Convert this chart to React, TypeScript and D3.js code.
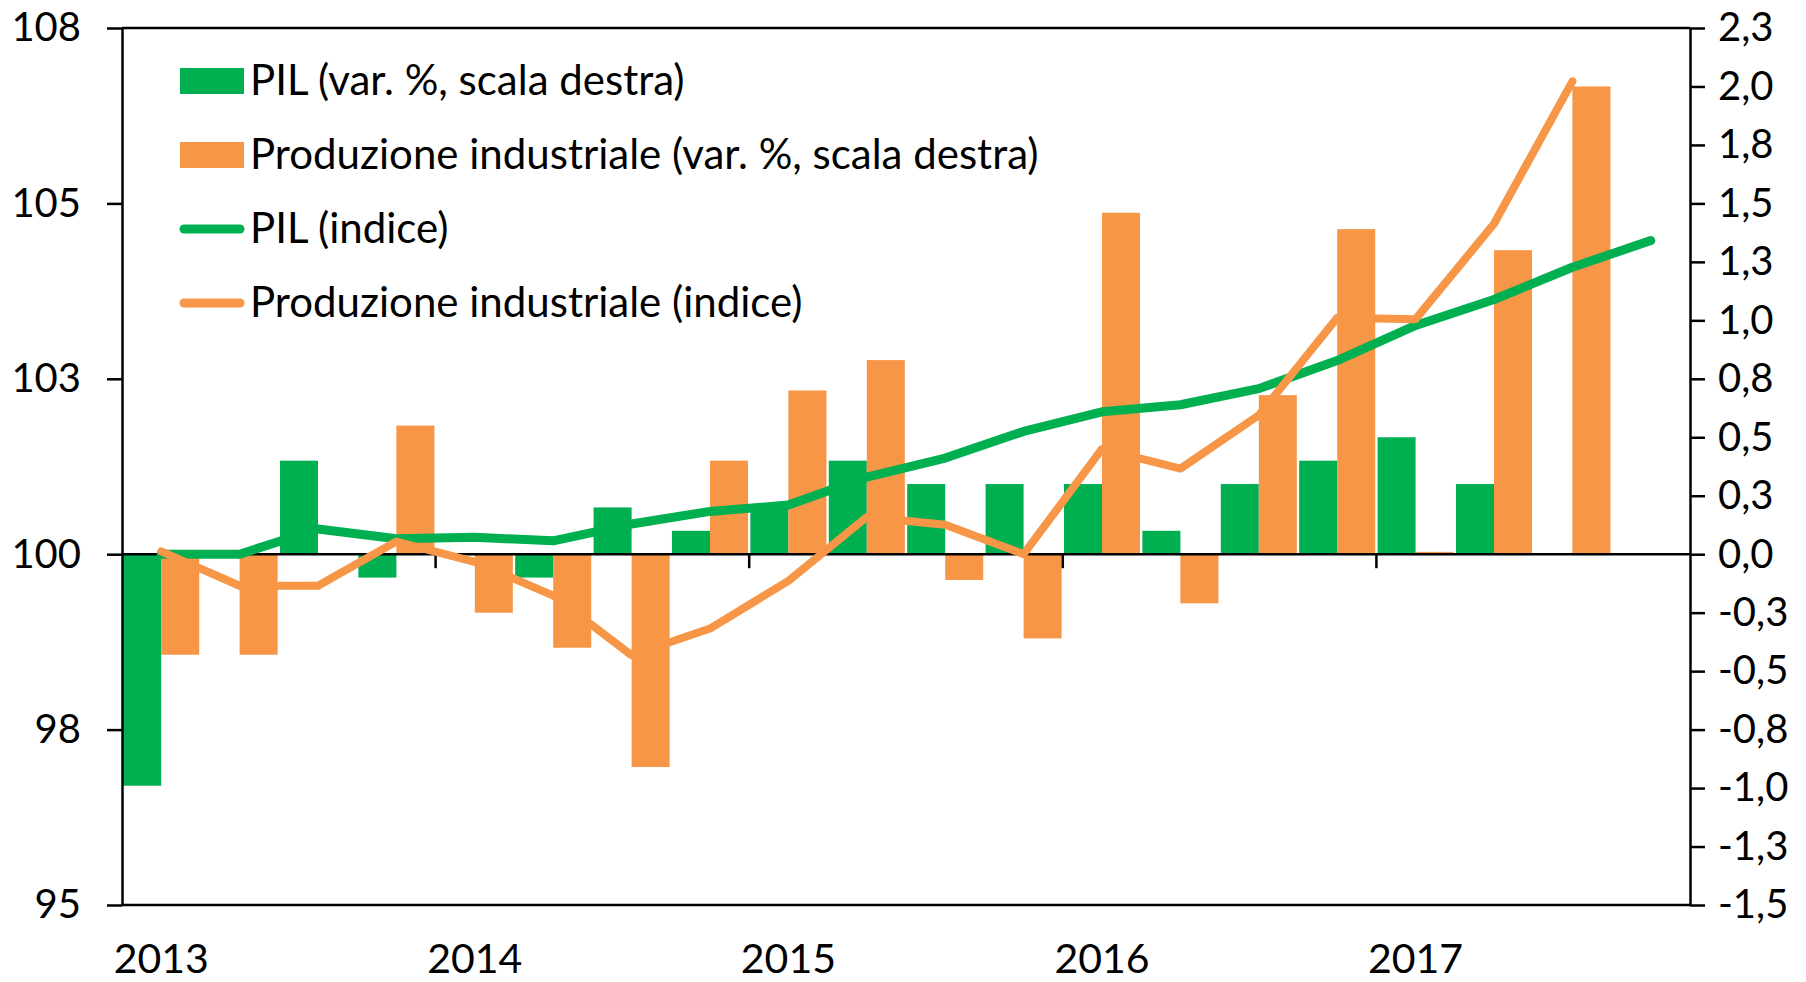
import React, { useEffect, useRef } from "react";
import * as d3 from "d3";

// trimestri 2013 T1 - 2017 T4
const quarters = [
  "2013 T1", "2013 T2", "2013 T3", "2013 T4",
  "2014 T1", "2014 T2", "2014 T3", "2014 T4",
  "2015 T1", "2015 T2", "2015 T3", "2015 T4",
  "2016 T1", "2016 T2", "2016 T3", "2016 T4",
  "2017 T1", "2017 T2", "2017 T3", "2017 T4",
];
const yearLabels = ["2013", "2014", "2015", "2016", "2017"];

// var. % (scala destra)
const pilVar = [
  -0.99, 0, 0.4, -0.1, 0, -0.1, 0.2, 0.1, 0.2, 0.4,
  0.3, 0.3, 0.3, 0.1, 0.3, 0.4, 0.5, 0.3, null, null,
];
const prodVar = [
  -0.43, -0.43, 0, 0.55, -0.25, -0.4, -0.91, 0.4, 0.7, 0.83,
  -0.11, -0.36, 1.46, -0.21, 0.68, 1.39, 0.01, 1.3, 2.0, null,
];

// indici (scala sinistra)
const pilIndex = [
  100.0, 100.0, 100.36, 100.22, 100.24, 100.19, 100.43, 100.61, 100.7, 101.1,
  101.37, 101.75, 102.03, 102.13, 102.36, 102.76, 103.26, 103.63, 104.09, 104.47,
];
const prodIndex = [
  100.04, 99.55, 99.55, 100.18, 99.89, 99.41, 98.56, 98.94, 99.62, 100.53,
  100.42, 100.0, 101.5, 101.22, 101.98, 103.37, 103.35, 104.71, 106.74,
];

const leftTicks = [95, 97.5, 100, 102.5, 105, 107.5];
const rightTicks = [
  -1.5, -1.25, -1.0, -0.75, -0.5, -0.25, 0, 0.25, 0.5, 0.75, 1.0, 1.25, 1.5,
  1.75, 2.0, 2.25,
];

const legendLabels = [
  "PIL (var. %, scala destra)",
  "Produzione industriale (var. %, scala destra)",
  "PIL (indice)",
  "Produzione industriale (indice)",
];

const GREEN = "#00B050";
const ORANGE = "#F79646";
const FONT = "Lato, 'Open Sans', sans-serif";

const W = 1806,
  H = 982;
const margin = { top: 28, right: 116, bottom: 77, left: 122 };
const plotRight = W - margin.right;
const plotBottom = H - margin.bottom;

export default function App() {
  const chartRef = useRef<SVGSVGElement>(null);

  useEffect(() => {
    if (!chartRef.current) return;
    const svg = d3.select(chartRef.current);
    svg.selectAll("*").remove();

    const x = d3
      .scaleBand<string>()
      .domain(quarters)
      .range([margin.left, plotRight])
      .paddingInner(0.03)
      .paddingOuter(0.015);
    const sub = d3
      .scaleBand<string>()
      .domain(["pil", "prod"])
      .range([0, x.bandwidth()]);
    const yL = d3.scaleLinear().domain([95, 107.5]).range([plotBottom, margin.top]);
    const yR = d3.scaleLinear().domain([-1.5, 2.25]).range([plotBottom, margin.top]);
    const cx = (i: number) => (x(quarters[i]) as number) + x.bandwidth() / 2;

    // barre
    const bars = [
      { key: "pil", values: pilVar, color: GREEN },
      { key: "prod", values: prodVar, color: ORANGE },
    ];
    bars.forEach((s) => {
      svg
        .append("g")
        .selectAll("rect")
        .data(s.values.map((v, i) => ({ v, i })).filter((d) => d.v != null && d.v !== 0))
        .enter()
        .append("rect")
        .attr("x", (d) => (x(quarters[d.i]) as number) + (sub(s.key) as number))
        .attr("width", sub.bandwidth())
        .attr("y", (d) => yR(Math.max(d.v as number, 0)))
        .attr("height", (d) => Math.abs(yR(d.v as number) - yR(0)))
        .attr("fill", s.color);
    });

    // cornice sopra e sotto
    svg
      .append("g")
      .selectAll("line")
      .data([margin.top, plotBottom])
      .enter()
      .append("line")
      .attr("x1", margin.left)
      .attr("x2", plotRight)
      .attr("y1", (d) => d)
      .attr("y2", (d) => d)
      .attr("stroke", "#000")
      .attr("stroke-width", 2.5);

    // asse delle categorie sullo zero
    const zeroY = yR(0);
    const xAxis = svg.append("g");
    xAxis
      .append("line")
      .attr("x1", margin.left)
      .attr("x2", plotRight)
      .attr("y1", zeroY)
      .attr("y2", zeroY)
      .attr("stroke", "#000")
      .attr("stroke-width", 2.5);
    const boundaries = quarters
      .map((q, i) => i)
      .filter((i) => i > 0 && i % 4 === 0)
      .map((i) => ((x(quarters[i - 1]) as number) + x.bandwidth() + (x(quarters[i]) as number)) / 2);
    xAxis
      .selectAll(".tick")
      .data(boundaries)
      .enter()
      .append("line")
      .attr("x1", (d) => d)
      .attr("x2", (d) => d)
      .attr("y1", zeroY)
      .attr("y2", zeroY + 14)
      .attr("stroke", "#000")
      .attr("stroke-width", 2.5);

    svg
      .append("g")
      .selectAll("text")
      .data(yearLabels)
      .enter()
      .append("text")
      .attr("x", (d) => cx(quarters.indexOf(d + " T1")))
      .attr("y", 973)
      .attr("text-anchor", "middle")
      .attr("font-family", FONT)
      .attr("font-size", 41)
      .attr("fill", "#000")
      .text((d) => d);

    // assi verticali
    const left = svg
      .append("g")
      .attr("transform", "translate(" + margin.left + ",0)")
      .call(
        d3
          .axisLeft(yL)
          .tickValues(leftTicks)
          .tickFormat((d) => (d as number).toFixed(0))
          .tickSize(15)
          .tickSizeOuter(0)
          .tickPadding(26)
      );
    const right = svg
      .append("g")
      .attr("transform", "translate(" + plotRight + ",0)")
      .call(
        d3
          .axisRight(yR)
          .tickValues(rightTicks)
          .tickFormat((d) => (d as number).toFixed(1).replace(".", ","))
          .tickSize(15)
          .tickSizeOuter(0)
          .tickPadding(13)
      );
    [left, right].forEach((g) => {
      g.selectAll("path").attr("stroke", "#000").attr("stroke-width", 2.5);
      g.selectAll("line").attr("stroke", "#000").attr("stroke-width", 2.5);
      g.selectAll("text")
        .attr("font-family", FONT)
        .attr("font-size", 40)
        .attr("fill", "#000");
    });

    // linee degli indici
    const line = d3
      .line<number>()
      .x((d, i) => cx(i))
      .y((d) => yL(d));
    svg
      .append("path")
      .datum(pilIndex)
      .attr("d", line)
      .attr("fill", "none")
      .attr("stroke", GREEN)
      .attr("stroke-width", 9)
      .attr("stroke-linecap", "round")
      .attr("stroke-linejoin", "round");
    svg
      .append("path")
      .datum(prodIndex)
      .attr("d", line)
      .attr("fill", "none")
      .attr("stroke", ORANGE)
      .attr("stroke-width", 8)
      .attr("stroke-linecap", "round")
      .attr("stroke-linejoin", "round");

    // legenda
    const legend = svg.append("g");
    legendLabels.forEach((label, i) => {
      const cy = 81 + i * 74;
      const color = i % 2 === 0 ? GREEN : ORANGE;
      if (i < 2) {
        legend
          .append("rect")
          .attr("x", 180)
          .attr("y", cy - 13)
          .attr("width", 64)
          .attr("height", 26)
          .attr("fill", color);
      } else {
        legend
          .append("line")
          .attr("x1", 184)
          .attr("x2", 240)
          .attr("y1", cy)
          .attr("y2", cy)
          .attr("stroke", color)
          .attr("stroke-width", 9)
          .attr("stroke-linecap", "round");
      }
      legend
        .append("text")
        .attr("x", 250)
        .attr("y", cy + 14)
        .attr("font-family", FONT)
        .attr("font-size", 42)
        .attr("fill", "#000")
        .text(label);
    });
  }, []);

  return (
    <svg
      ref={chartRef}
      width={W}
      height={H}
      style={{ position: "absolute", left: 0, top: 0, display: "block", background: "#fff" }}
    ></svg>
  );
}
